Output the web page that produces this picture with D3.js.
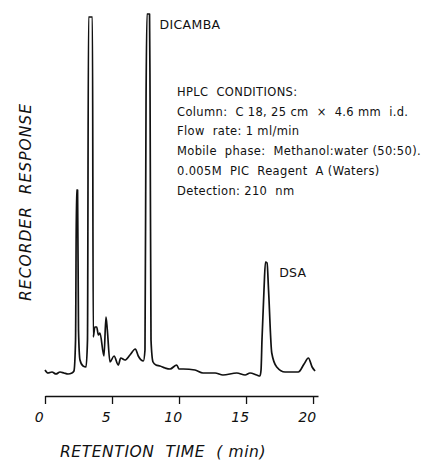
<!DOCTYPE html>
<html>
<head>
<meta charset="utf-8">
<script src="https://cdn.jsdelivr.net/npm/d3@7"></script>
<style>
  html, body { margin: 0; padding: 0; background: #fff; }
  #chart { width: 427px; height: 461px; }
  text { white-space: pre; }
  .trace { fill: none; stroke: #111; stroke-width: 1.7; stroke-linejoin: round; }
  .axis path, .axis line { stroke: #111; stroke-width: 1.3; }
  .axis text { font-family: "DejaVu Sans", sans-serif; font-style: italic; font-size: 14px; fill: #111; }
  .note { font-family: "DejaVu Sans", sans-serif; font-size: 11.5px; letter-spacing: 0.35px; fill: #111; }
  .title { font-family: "DejaVu Sans", sans-serif; font-style: italic; font-size: 15.5px; letter-spacing: 1px; fill: #111; }
</style>
</head>
<body>
<div id="chart"></div>
<script>
'use strict';

// retention time (min) and recorder response (chart units, 0 = baseline)
const TIMES = [
  0.00, 0.22, 0.52, 0.82, 1.12, 1.42, 1.72, 2.01, 2.16,
  2.28, 2.35, 2.43, 2.50, 2.61, 2.84, 3.06,
  3.17, 3.25, 3.54, 3.60, 3.72, 3.86, 3.98, 4.10, 4.40, 4.55, 4.65,
  4.85, 5.15, 5.47, 5.65, 5.97, 6.34, 6.74, 6.96, 7.34,
  7.46, 7.54, 7.61, 7.80, 7.84, 7.91, 8.06, 8.28, 8.58, 8.96, 9.33, 9.83, 10.00,
  10.32, 11.19, 11.79, 12.69, 13.28, 14.31, 14.93, 15.30, 15.80, 16.04,
  16.12, 16.19, 16.34, 16.45, 16.57, 16.68, 16.92, 17.29, 17.91, 18.90,
  19.33, 19.65, 19.93, 20.15
];
const RESPONSE = [
  3, 0, 1, -1, 1, 0, -1, 0, 2,
  33, 183, 183, 43, 13, 7, 6,
  33, 356, 356, 36, 46, 46, 38, 40, 17, 56, 43,
  11, 17, 8, 15, 13, 18, 24, 17, 12,
  23, 273, 359, 359, 273, 33, 11, 8, 7, 5, 4, 8, 4,
  4, 3, 0, 0, -2, 0, -2, 0, -2, -3,
  3, 33, 83, 111, 110, 83, 20, 6, 1, 1,
  9, 15, 6, 2
];

const X_TICKS = [0, 5, 10, 15, 20];
const X_TITLE = 'RETENTION  TIME  ( min)';
const Y_TITLE = 'RECORDER  RESPONSE';
const PEAK_LABELS = [
  { text: 'DICAMBA', t: 7.8, r: 359 },
  { text: 'DSA', t: 16.5, r: 111 }
];
const CONDITIONS = [
  'HPLC  CONDITIONS:',
  'Column:  C 18, 25 cm  \u00d7  4.6 mm  i.d.',
  'Flow  rate: 1 ml/min',
  'Mobile  phase:  Methanol:water (50:50).',
  '0.005M  PIC  Reagent  A (Waters)',
  'Detection: 210  nm'
];

const W = 427, H = 461;
const svg = d3.select('#chart').append('svg')
  .attr('width', W).attr('height', H);

const x = d3.scaleLinear().domain([0, 20.37]).range([45, 318]);
const y = d3.scaleLinear().domain([0, 361]).range([373, 12]);

const data = TIMES.map((t, i) => ({ t, r: RESPONSE[i] }));

const line = d3.line()
  .x(d => x(d.t))
  .y(d => y(d.r))
  .curve(d3.curveMonotoneX);

svg.append('path')
  .datum(data)
  .attr('class', 'trace')
  .attr('d', line);

// x axis
const ax = svg.append('g')
  .attr('class', 'axis')
  .attr('transform', 'translate(0,396)')
  .call(d3.axisBottom(x).tickValues(X_TICKS).tickSize(8).tickSizeOuter(0).tickPadding(8));
ax.selectAll('text').attr('dx', '-0.45em');

svg.append('text')
  .attr('class', 'title')
  .attr('x', 163).attr('y', 457)
  .attr('text-anchor', 'middle')
  .style('letter-spacing', '0.6px')
  .text(X_TITLE);

svg.append('text')
  .attr('class', 'title')
  .attr('transform', 'translate(31,202) rotate(-90)')
  .attr('text-anchor', 'middle')
  .text(Y_TITLE);

// peak labels
svg.selectAll('.peak')
  .data(PEAK_LABELS)
  .join('text')
  .attr('class', 'note')
  .attr('x', d => x(d.t) + (d.text === 'DSA' ? 13 : 10))
  .attr('y', d => y(d.r) + 15)
  .style('font-size', '12.5px')
  .text(d => d.text);

// conditions block
svg.append('g')
  .selectAll('text')
  .data(CONDITIONS)
  .join('text')
  .attr('class', 'note')
  .attr('x', 177)
  .attr('y', (d, i) => 96 + i * 19.7)
  .text(d => d);
</script>
</body>
</html>
